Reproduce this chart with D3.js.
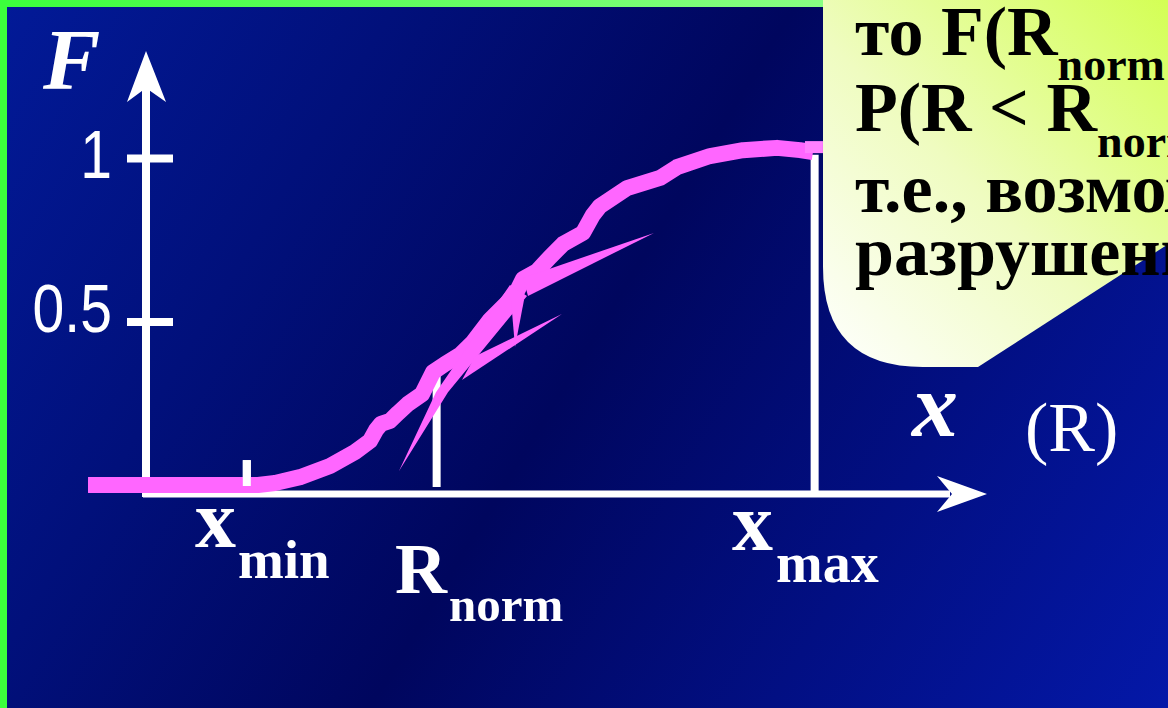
<!DOCTYPE html>
<html><head><meta charset="utf-8">
<script src="https://cdn.jsdelivr.net/npm/d3@7"></script>
<style>html,body{margin:0;padding:0;background:#000060;overflow:hidden}</style>
</head><body><svg id="c" width="1168" height="708"></svg>
<script>
// ---------- data ----------
const curveR = [-0.69, 1.333, 1.536, 1.833, 2.19, 2.488, 2.667, 2.738, 2.798, 2.905, 3.0, 3.119, 3.286, 3.417, 3.56, 3.738, 3.893, 4.095, 4.298, 4.417, 4.488, 4.655, 4.81, 4.964, 5.202, 5.321, 5.405, 5.726, 6.119, 6.321, 6.714, 7.107, 7.512, 7.786, 7.94];
const curveF = [0, 0, 0.006, 0.024, 0.058, 0.101, 0.135, 0.168, 0.187, 0.196, 0.22, 0.248, 0.278, 0.345, 0.37, 0.398, 0.437, 0.505, 0.557, 0.593, 0.63, 0.654, 0.697, 0.737, 0.771, 0.826, 0.853, 0.908, 0.939, 0.972, 1.006, 1.024, 1.031, 1.024, 1.018];
const yTickValues = [0.5, 1];
const yTickLabels = ["0.5", "1"];
const markerMain = ["x", "R", "x"];
const markerSub = ["min", "norm", "max"];
const markerR = [1.20, 3.46, 7.96];
const markerTopF = [0.076, 0.333, 1.01];
const wedgeA = [[3.012, 0.043], [3.452, 0.284], [4.333, 0.612], [4.536, 0.578], [3.595, 0.284]];
const wedgeB = [[6.048, 0.771], [4.488, 0.633], [4.548, 0.578]];
const wedgeC = [[4.952, 0.523], [3.917, 0.394], [3.762, 0.321]];
const wedgeD = [[4.393, 0.422], [4.345, 0.566], [4.5, 0.566]];
const calloutLines = ["то F(R", "P(R < R", "т.е., возмож", "разрушени"];
const calloutSubs = ["norm", "norm", "", ""];

// ---------- setup ----------
const W = 1168, H = 708;
const svg = d3.select("#c");
const x = d3.scaleLinear().domain([0, 10]).range([146, 986]);
const y = d3.scaleLinear().domain([0, 1]).range([485, 158]);
const PINK = "#ff66ff";
const serif = "'Liberation Serif','Times New Roman',serif";

const defs = svg.append("defs");
const bg = defs.append("linearGradient").attr("id", "bg").attr("gradientUnits", "userSpaceOnUse")
  .attr("x1", 0).attr("y1", 0).attr("x2", W).attr("y2", H);
bg.append("stop").attr("offset", 0).attr("stop-color", "#021a98");
bg.append("stop").attr("offset", 0.5).attr("stop-color", "#00065e");
bg.append("stop").attr("offset", 1).attr("stop-color", "#0418a8");
const gr = defs.append("linearGradient").attr("id", "gr").attr("x1", 0).attr("y1", 0).attr("x2", 1).attr("y2", 0);
gr.append("stop").attr("offset", 0).attr("stop-color", "#3cff3c");
gr.append("stop").attr("offset", 1).attr("stop-color", "#a8ffa0");
const yg = defs.append("linearGradient").attr("id", "yg").attr("x1", 0).attr("y1", 1).attr("x2", 1).attr("y2", 0);
yg.append("stop").attr("offset", 0).attr("stop-color", "#ffffff");
yg.append("stop").attr("offset", 0.45).attr("stop-color", "#effcc0");
yg.append("stop").attr("offset", 1).attr("stop-color", "#d2ff4e");

svg.append("rect").attr("width", W).attr("height", H).attr("fill", "url(#bg)");
svg.append("rect").attr("width", W).attr("height", 7).attr("fill", "url(#gr)");
svg.append("rect").attr("width", 7).attr("height", H).attr("fill", "#3cff3c");

// ---------- axes ----------
const x0 = x(0), axisY = y(0) + 9;
const axG = svg.append("g").attr("fill", "#fff").attr("stroke", "#fff");
axG.append("line").attr("x1", x0).attr("x2", x0).attr("y1", axisY + 3).attr("y2", y(1) - 72)
  .attr("stroke-width", 8);
axG.append("path").attr("stroke", "none")
  .attr("d", `M${x0},${y(1) - 107} L${x0 + 20},${y(1) - 56} L${x0},${y(1) - 70} L${x0 - 19},${y(1) - 56} Z`);
axG.append("line").attr("x1", x0 - 3).attr("x2", x(10) - 36).attr("y1", axisY).attr("y2", axisY)
  .attr("stroke-width", 7);
axG.append("path").attr("stroke", "none")
  .attr("d", `M${x(10) + 1},${axisY} L${x(10) - 49},${axisY - 18} L${x(10) - 34},${axisY} L${x(10) - 49},${axisY + 18} Z`);

const yAxis = d3.axisLeft(y).tickValues(yTickValues).tickFormat((d, i) => yTickLabels[i]).tickSizeOuter(0);
const yg2 = svg.append("g").attr("transform", `translate(${x0},0)`).call(yAxis);
yg2.select(".domain").remove();
yg2.selectAll(".tick line").attr("x1", -19).attr("x2", 27).attr("stroke", "#fff").attr("stroke-width", 8);
const labelDy = [10, 19];
yg2.selectAll(".tick text")
  .attr("x", 0).attr("dy", null)
  .attr("transform", (d, i) => `translate(-34,${labelDy[i]}) scale(0.84,1)`)
  .attr("fill", "#fff").attr("text-anchor", "end")
  .style("font-family", "'Liberation Sans',Arial,sans-serif").style("font-size", "68px");

// ---------- markers ----------
const markBottomPad = [1, 2, 9];
svg.append("g").selectAll("line").data(markerR).join("line")
  .attr("x1", d => x(d)).attr("x2", d => x(d))
  .attr("y1", (d, i) => y(markerTopF[i])).attr("y2", (d, i) => y(0) + markBottomPad[i])
  .attr("stroke", "#fff").attr("stroke-width", 8);

// ---------- pink curve & wedges ----------
const pts = curveR.map((r, i) => [x(r), y(curveF[i])]);
svg.append("path").attr("d", d3.line()(pts)).attr("fill", "none").attr("stroke", PINK)
  .attr("stroke-width", 16).attr("stroke-linejoin", "round").attr("stroke-linecap", "butt");
svg.append("line").attr("x1", x(curveR[0])).attr("x2", x(1.39)).attr("y1", y(0) + 1).attr("y2", y(0) + 1)
  .attr("stroke", PINK).attr("stroke-width", 12);
[wedgeA, wedgeB, wedgeC, wedgeD].forEach(w => {
  svg.append("path").attr("d", d3.line()(w.map(p => [x(p[0]), y(p[1])])) + "Z").attr("fill", PINK);
});
const last = pts[pts.length - 1];
svg.append("rect").attr("x", last[0] - 8).attr("y", last[1] - 11).attr("width", 18).attr("height", 12).attr("fill", "#ff80ff");
svg.append("line").attr("x1", x(markerR[0])).attr("x2", x(markerR[0]))
  .attr("y1", y(markerTopF[0])).attr("y2", y(0) + 1).attr("stroke", "#fff").attr("stroke-width", 8);

// ---------- labels ----------
svg.append("text").attr("x", 43).attr("y", 89).attr("fill", "#fff")
  .style("font", `italic bold 86px ${serif}`).text("F");
svg.append("text").attr("x", 912).attr("y", 436).attr("fill", "#fff")
  .style("font", `italic bold 92px ${serif}`).text("x");
svg.append("text").attr("x", 1025).attr("y", 451).attr("fill", "#fff")
  .style("font", `70px ${serif}`).text("(R)");

const mainPos = [[195, 547, 82], [395, 593, 72], [732, 550, 82]];
const subPos = [[238, 578, 55], [449, 621, 49], [776, 582, 56]];
markerMain.forEach((m, i) => {
  const t = svg.append("text").attr("fill", "#fff").style("font-family", serif).style("font-weight", "bold");
  t.append("tspan").attr("x", mainPos[i][0]).attr("y", mainPos[i][1]).style("font-size", mainPos[i][2] + "px").text(m);
  t.append("tspan").attr("x", subPos[i][0]).attr("y", subPos[i][1]).style("font-size", subPos[i][2] + "px").text(markerSub[i]);
});

// ---------- callout ----------
svg.append("path").attr("fill", "url(#yg)")
  .attr("d", "M823,0 L823,267 Q823,367 923,367 L978,367 L1190,230 L1190,0 Z");
const baseY = [55, 131, 212, 275];
const subY = [80, 157];
calloutLines.forEach((s, i) => {
  const t = svg.append("text").attr("x", 855).attr("y", baseY[i]).attr("fill", "#000")
    .style("font-family", serif).style("font-weight", "bold").style("font-size", "70px");
  t.append("tspan").text(s);
  if (calloutSubs[i]) {
    t.append("tspan").attr("dy", subY[i] - baseY[i]).style("font-size", "46px").text(calloutSubs[i]);
  }
});
</script></body></html>
